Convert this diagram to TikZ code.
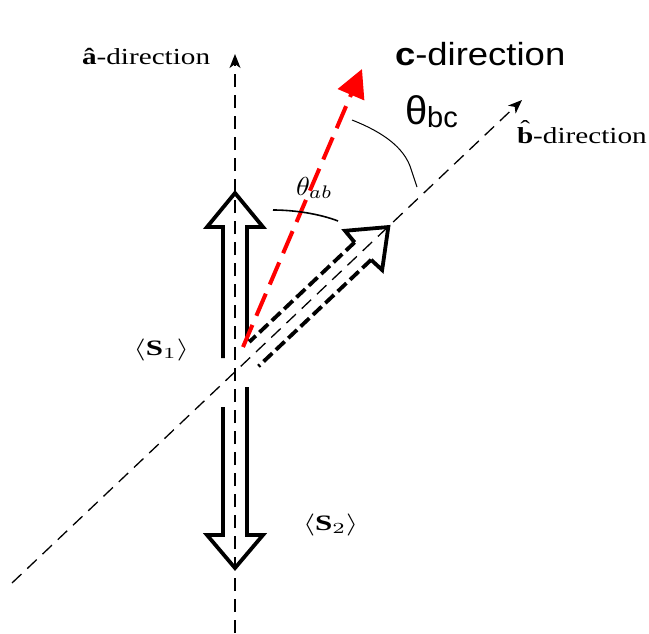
\documentclass[tikz,border=0pt]{standalone}
\usepackage{fontspec}
\usepackage{graphicx}
\setmainfont{Liberation Serif}
\newfontfamily\sansf{Liberation Sans}
\usetikzlibrary{arrows.meta}
\newcommand{\hatb}{{\ooalign{\textbf{b}\cr\hidewidth\raisebox{0.28em}{ˆ}\hidewidth\cr}}}
\begin{document}
\begin{tikzpicture}[x=1pt,y=1pt,
  axisline/.style={line width=1.3pt, dash pattern=on 13pt off 8pt,
    -{Stealth[length=14pt,width=11pt,inset=4pt]}},
  hollow/.style={line width=3.8pt, line join=miter, miter limit=10},
  hollowdash/.style={hollow, dash pattern=on 12pt off 5pt},
  redline/.style={draw={rgb,255:red,255;green,0;blue,0}, line width=4pt,
    dash pattern=on 24pt off 10pt,
    -{Triangle[length=28pt,width=28pt]}},
  lbl/.style={inner sep=0pt, outer sep=0pt},
  arcline/.style={line width=1pt}
]
\useasboundingbox (0,0) rectangle (649,-633);
\fill[white] (0,0) rectangle (649,-633);

% axes
\coordinate (O) at (235,-372);
\coordinate (aBot) at (235,-633);
\coordinate (aTop) at (235,-54);
\coordinate (bBot) at (12,-583);
\coordinate (bTop) at (522,-100);
\draw[axisline] (aBot) -- (aTop);
\draw[axisline] (bBot) -- (bTop);

% S1 up arrow
\draw[hollow] (223,-358) -- (223,-227) -- (207,-227) -- (235,-193)
  -- (263,-227) -- (247,-227) -- (247,-340);
% S2 down arrow
\draw[hollow] (223,-407) -- (223,-535) -- (207,-535) -- (235,-568)
  -- (263,-535) -- (247,-535) -- (247,-387);

% diagonal hollow arrow along b
\begin{scope}[shift={(O)}, rotate=43.4]
  \draw[hollow] (176,12) -- (177,27) -- (211,0) -- (177,-27) -- (176,-12);
  \draw[hollowdash] (176,12) -- (31,12);
  \draw[hollowdash] (176,-12) -- (21,-12);
\end{scope}

% red c-direction arrow
\coordinate (cStart) at (243,-347);
\coordinate (cTip) at (362,-69);
\draw[redline] (cStart) -- (cTip);

% angle arcs
\draw[arcline] (352,-120) .. controls (385,-133) and (403,-148) .. (410,-166) -- (417,-187);
\draw[line width=1.6pt] (273,-210) .. controls (295,-210) and (320,-214) .. (338,-221);

% labels
\node[lbl, anchor=base west] (alab) at (82,-64)
  {\scalebox{1.27}[1]{\fontsize{23}{23}\selectfont\textbf{â}-direction}};
\node[lbl, anchor=base west] (blab) at (517,-143)
  {\scalebox{1.27}[1]{\fontsize{23}{23}\selectfont\hatb-direction}};
\node[lbl, anchor=base west] (clab) at (395,-65)
  {\scalebox{1.14}[1]{\sansf\fontsize{32}{32}\selectfont\textbf{c}-direction}};
\node[lbl, anchor=base west] (tbc) at (405,-124)
  {\sansf\fontsize{40}{40}\selectfont θ\fontsize{29}{29}\selectfont\raisebox{-3pt}{bc}};
\node[lbl, anchor=base west] (tab) at (296,-195)
  {\scalebox{2.8}[2.6]{$\theta_{ab}$}};
\node[lbl, anchor=base east] (s1) at (189,-355)
  {\scalebox{3.1}[2.2]{$\langle\mathbf{S}_1\rangle$}};
\node[lbl, anchor=base west] (s2) at (303,-530)
  {\scalebox{3.1}[2.2]{$\langle\mathbf{S}_2\rangle$}};
\end{tikzpicture}
\end{document}
